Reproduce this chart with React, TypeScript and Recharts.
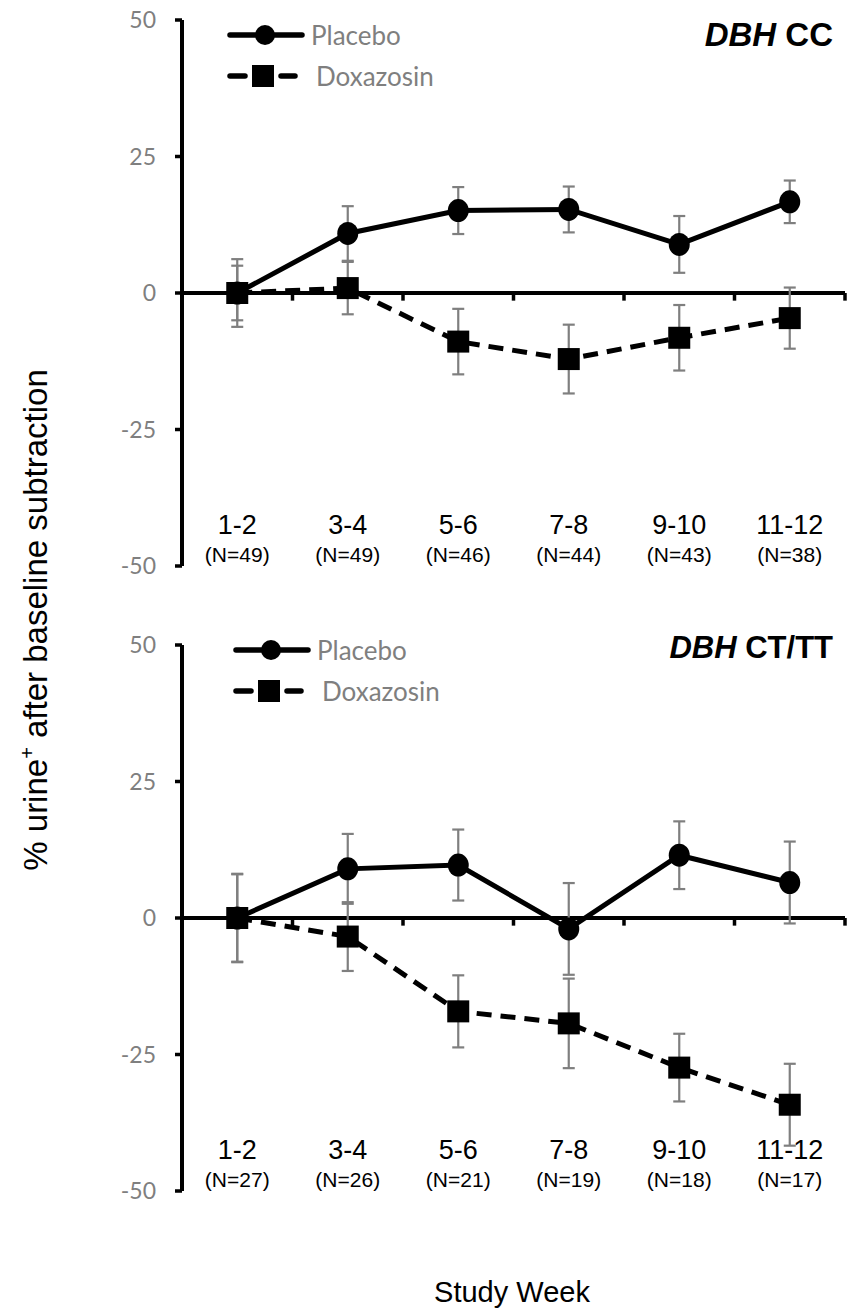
import React from 'react';
import { LineChart, Line, XAxis, YAxis, ErrorBar, ReferenceLine, Legend } from 'recharts';

const weeks = ['1-2', '3-4', '5-6', '7-8', '9-10', '11-12'];
const yTicks = [-50, -25, 0, 25, 50];
const bandEdges = [1.5, 2.5, 3.5, 4.5, 5.5, 6.5];
const seriesOrder = ['Placebo', 'Doxazosin'];

// DBH CC
const ccN = [49, 49, 46, 44, 43, 38];
const ccPlacebo = [0, 10.9, 15.1, 15.3, 8.9, 16.7];
const ccPlaceboErr = [6.2, 5.0, 4.3, 4.2, 5.2, 3.9];
const ccDoxazosin = [0, 0.9, -8.9, -12.1, -8.2, -4.6];
const ccDoxazosinErr = [5.0, 4.8, 6.0, 6.3, 6.0, 5.6];

// DBH CT/TT
const ctN = [27, 26, 21, 19, 18, 17];
const ctPlacebo = [0, 9.0, 9.7, -2.0, 11.5, 6.5];
const ctPlaceboErr = [8.1, 6.4, 6.5, 8.4, 6.2, 7.5];
const ctDoxazosin = [0, -3.4, -17.1, -19.3, -27.4, -34.2];
const ctDoxazosinErr = [8.0, 6.3, 6.6, 8.2, 6.2, 7.5];

const buildRows = (n: number[], p: number[], pe: number[], d: number[], de: number[]) =>
  weeks.map((w, i) => ({
    x: i + 1, week: w, n: n[i],
    placebo: p[i], placeboErr: pe[i],
    doxazosin: d[i], doxazosinErr: de[i],
  }));

const ccRows = buildRows(ccN, ccPlacebo, ccPlaceboErr, ccDoxazosin, ccDoxazosinErr);
const ctRows = buildRows(ctN, ctPlacebo, ctPlaceboErr, ctDoxazosin, ctDoxazosinErr);

const ARIAL = '"Liberation Sans", Arial, sans-serif';
const CALIBRI = 'Lato, "Open Sans", sans-serif';
const GREY = '#7f7f7f';

const circleDot = (p: any) => (
  <ellipse key={`c${p.index}`} cx={p.cx} cy={p.cy} rx={10.5} ry={11.5} fill="#000" />
);
const squareDot = (p: any) => (
  <rect key={`s${p.index}`} x={p.cx - 11} y={p.cy - 11} width={22} height={22} fill="#000" />
);

const renderLegend = (props: any) => {
  const items = [...(props.payload || [])].sort(
    (a: any, b: any) => seriesOrder.indexOf(a.value) - seriesOrder.indexOf(b.value));
  return (
    <div>
      {items.map((entry: any) => (
        <div key={entry.value} style={{ display: 'flex', alignItems: 'center', height: 41 }}>
          <svg width={entry.type === 'circle' ? 84 : 89} height={30} style={{ display: 'block' }}>
            {entry.type === 'circle' ? (
              <g>
                <line x1={3} y1={15} x2={75} y2={15} stroke="#000" strokeWidth={5.5} strokeLinecap="round" />
                <circle cx={38} cy={15} r={10} fill="#000" />
              </g>
            ) : (
              <g>
                <line x1={3} y1={15} x2={18} y2={15} stroke="#000" strokeWidth={5.5} strokeLinecap="round" />
                <rect x={25} y={4} width={22} height={22} fill="#000" />
                <line x1={54} y1={15} x2={68} y2={15} stroke="#000" strokeWidth={5.5} strokeLinecap="round" />
              </g>
            )}
          </svg>
          <span style={{ fontFamily: CALIBRI, fontSize: 26, color: GREY, lineHeight: 1 }}>{entry.value}</span>
        </div>
      ))}
    </div>
  );
};

function Panel({ rows, counts, height, top, plotTop, legendLeft, legendTop }: any) {
  const weekTick = (p: any) => {
    const i = p.payload.value - 1;
    return (
      <g key={`t${i}`}>
        <text x={p.x} y={p.y - 32} textAnchor="middle" fontSize={27} fontFamily={ARIAL} fill="#000">{weeks[i]}</text>
        <text x={p.x} y={p.y - 4} textAnchor="middle" fontSize={21} fontFamily={ARIAL} fill="#000">(N={counts[i]})</text>
      </g>
    );
  };
  return (
    <div style={{ position: 'absolute', left: 0, top }}>
      <LineChart width={860} height={height} data={rows} margin={{ top: plotTop, right: 15, bottom: 10, left: 122 }}>
        <XAxis type="number" dataKey="x" domain={[0.5, 6.5]} ticks={[1, 2, 3, 4, 5, 6]} axisLine={false} tickLine={false}
          tickSize={0} tickMargin={0} height={height - plotTop - 10 - 546} tick={weekTick} interval={0} />
        <YAxis type="number" domain={[-50, 50]} ticks={yTicks} width={60} interval={0}
          axisLine={{ stroke: '#000', strokeWidth: 4 }} tickLine={{ stroke: '#000', strokeWidth: 3.5 }}
          tickSize={7} tickMargin={19} tick={{ fill: GREY, fontSize: 23, fontFamily: CALIBRI }} />
        <ReferenceLine y={0} stroke="#000" strokeWidth={4} />
        {bandEdges.map((e) => (
          <ReferenceLine key={e} segment={[{ x: e, y: 0 }, { x: e, y: -1.4 }]} stroke="#000" strokeWidth={3.5} />
        ))}
        <Legend layout="vertical" align="center" verticalAlign="middle" content={renderLegend}
          wrapperStyle={{ left: legendLeft, top: legendTop, width: 280, height: 90 }} />
        <Line name="Placebo" legendType="circle" type="linear" dataKey="placebo" stroke="#000" strokeWidth={5}
          dot={circleDot} activeDot={false} isAnimationActive={false}>
          <ErrorBar dataKey="placeboErr" direction="y" width={6} stroke={GREY} strokeWidth={2.2} isAnimationActive={false} />
        </Line>
        <Line name="Doxazosin" legendType="square" type="linear" dataKey="doxazosin" stroke="#000" strokeWidth={5}
          strokeDasharray="15 9" dot={squareDot} activeDot={false} isAnimationActive={false}>
          <ErrorBar dataKey="doxazosinErr" direction="y" width={6} stroke={GREY} strokeWidth={2.2} isAnimationActive={false} />
        </Line>
      </LineChart>
    </div>
  );
}

export default function App() {
  return (
    <div style={{ position: 'absolute', left: 0, top: 0, width: 860, height: 1315, background: '#fff' }}>
      <Panel rows={ccRows} counts={ccN} height={600} top={0} plotTop={20} legendLeft={227} legendTop={14} />
      <Panel rows={ctRows} counts={ctN} height={620} top={600} plotTop={45} legendLeft={233} legendTop={29} />
      <svg width={860} height={1315} style={{ position: 'absolute', left: 0, top: 0, pointerEvents: 'none' }}>
        <text x={833} y={46} textAnchor="end" fontFamily={ARIAL} fontSize={33} fontWeight="bold" fill="#000">
          <tspan fontStyle="italic">DBH</tspan> CC
        </text>
        <text x={833} y={658} textAnchor="end" fontFamily={ARIAL} fontSize={31} fontWeight="bold" fill="#000">
          <tspan fontStyle="italic">DBH</tspan> CT/TT
        </text>
        <text x={47} y={620} transform="rotate(-90 47 620)" textAnchor="middle" fontFamily={ARIAL} fontSize={33} fill="#000">
          % urine<tspan fontSize={20} dy={-13}>+</tspan><tspan dy={13}> after baseline subtraction</tspan>
        </text>
        <text x={512} y={1302} textAnchor="middle" fontFamily={ARIAL} fontSize={29} fill="#000">Study Week</text>
      </svg>
    </div>
  );
}
